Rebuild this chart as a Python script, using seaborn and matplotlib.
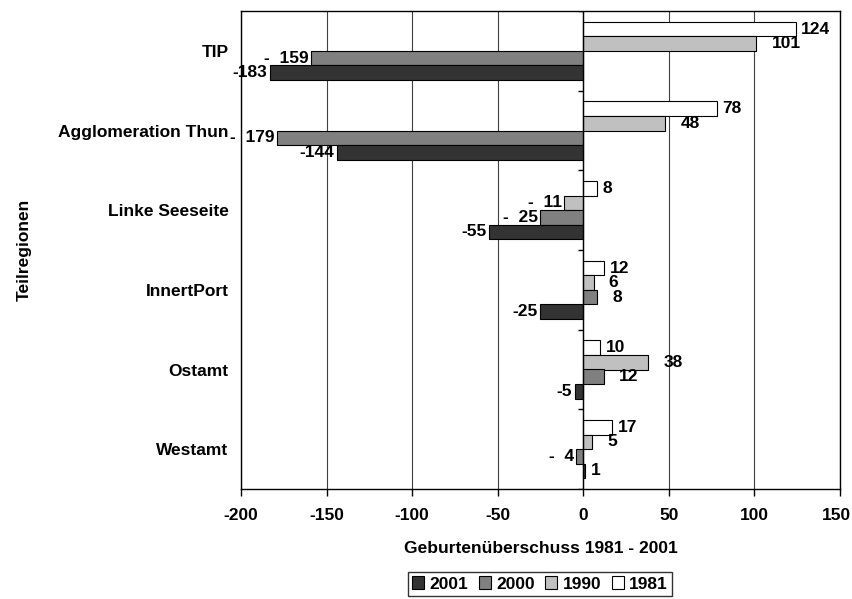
import matplotlib
matplotlib.use("Agg")
import matplotlib.pyplot as plt
import matplotlib.transforms as mtransforms
import seaborn as sns
import pandas as pd
from matplotlib.patches import Patch

# ---- data ----
regions = ["TIP", "Agglomeration Thun", "Linke Seeseite", "InnertPort", "Ostamt", "Westamt"]
years = ["1981", "1990", "2000", "2001"]          # top to bottom inside a group
legend_years = ["2001", "2000", "1990", "1981"]
v1981 = [124, 78, 8, 12, 10, 17]
v1990 = [101, 48, -11, 6, 38, 5]
v2000 = [-159, -179, -25, 8, 12, -4]
v2001 = [-183, -144, -55, -25, -5, 1]
xticks = [-200, -150, -100, -50, 0, 50, 100, 150]
xlabel = "Geburtenüberschuss 1981 - 2001"
ylabel = "Teilregionen"

values = {"1981": v1981, "1990": v1990, "2000": v2000, "2001": v2001}
colors = {"2001": "#333333", "2000": "#808080", "1990": "#C0C0C0", "1981": "#FFFFFF"}

rows = []
for y in years:
    for r, v in zip(regions, values[y]):
        rows.append({"region": r, "year": y, "value": v})
df = pd.DataFrame(rows)

sns.set_style("white")
plt.rcParams["font.family"] = ["Liberation Sans", "DejaVu Sans"]
plt.rcParams["font.weight"] = "bold"
plt.rcParams["text.color"] = "black"
plt.rcParams["axes.labelcolor"] = "black"
plt.rcParams["xtick.color"] = "black"
plt.rcParams["ytick.color"] = "black"
FS = 12.5

fig = plt.figure(figsize=(8.52, 5.99), dpi=100)
ax = fig.add_axes([241 / 852, 1 - 489 / 599, 599 / 852, 478 / 599])

sns.barplot(data=df, x="value", y="region", hue="year", order=regions,
            hue_order=years, palette=colors, orient="h", width=0.73,
            edgecolor="black", linewidth=0.8, saturation=1, legend=False,
            ax=ax, zorder=3)

ax.set_xlim(-200, 150)
ax.set_ylim(5.5, -0.5)
ax.set_xticks(xticks)
ax.set_xticklabels([str(t) for t in xticks], fontsize=FS, fontweight="bold", color="black")
ax.xaxis.grid(True, color="#404040", linewidth=0.8, zorder=0)
ax.yaxis.grid(False)
ax.set_axisbelow(True)
ax.tick_params(axis="x", direction="out", length=5, width=1, color="black",
               pad=9, bottom=True)
ax.tick_params(axis="y", length=0, pad=9)
for lab in ax.get_yticklabels():
    lab.set_fontsize(FS)
    lab.set_fontweight("bold")
    lab.set_color("black")
# keep the last x tick label inside the figure
last = ax.get_xticklabels()[-1]
last.set_transform(last.get_transform() +
                   mtransforms.ScaledTranslation(-4 / 100, 0, fig.dpi_scale_trans))
for s in ax.spines.values():
    s.set_visible(True)
    s.set_color("black")
    s.set_linewidth(1)

# category axis at zero with boundary ticks
ax.axvline(0, color="black", linewidth=1, zorder=4)
bounds = [i - 0.5 for i in range(len(regions) + 1)]
ax.hlines(bounds, -3, 0, color="black", linewidth=1, zorder=4)

ax.set_xlabel(xlabel, fontsize=FS, fontweight="bold", color="black")
ax.xaxis.set_label_coords(0.5, -0.108)
ax.set_ylabel(ylabel, fontsize=FS, fontweight="bold", color="black")
ax.yaxis.set_label_coords(-0.35, 0.5)

# value labels
pos_pad = {"1981": 4, "1990": 11, "2000": 11, "2001": 4}
for cont, y in zip(ax.containers, years):
    for bar, v in zip(cont, values[y]):
        yc = bar.get_y() + bar.get_height() / 2
        if v >= 0:
            txt = str(v)
            ax.annotate(txt, (v, yc), xytext=(pos_pad[y], 0), textcoords="offset points",
                        ha="left", va="center", fontsize=FS, fontweight="bold",
                        color="black", zorder=5)
        else:
            txt = ("-  " + str(-v)) if y in ("1990", "2000") else str(v)
            ax.annotate(txt, (v, yc), xytext=(-2, 0), textcoords="offset points",
                        ha="right", va="center", fontsize=FS, fontweight="bold",
                        color="black", zorder=5)

handles = [Patch(facecolor=colors[y], edgecolor="black", linewidth=0.8, label=y)
           for y in legend_years]
leg = fig.legend(handles=handles, loc="center", ncol=4,
                 bbox_to_anchor=(540 / 852, 1 - 584 / 599),
                 prop={"size": FS, "weight": "bold"}, frameon=True, fancybox=False,
                 handlelength=0.7, handleheight=0.7, handletextpad=0.3,
                 columnspacing=0.6, borderpad=0.25, borderaxespad=0)
leg.get_frame().set_edgecolor("black")
leg.get_frame().set_linewidth(1)
for t in leg.get_texts():
    t.set_color("black")

fig.savefig("out.png", dpi=100)
